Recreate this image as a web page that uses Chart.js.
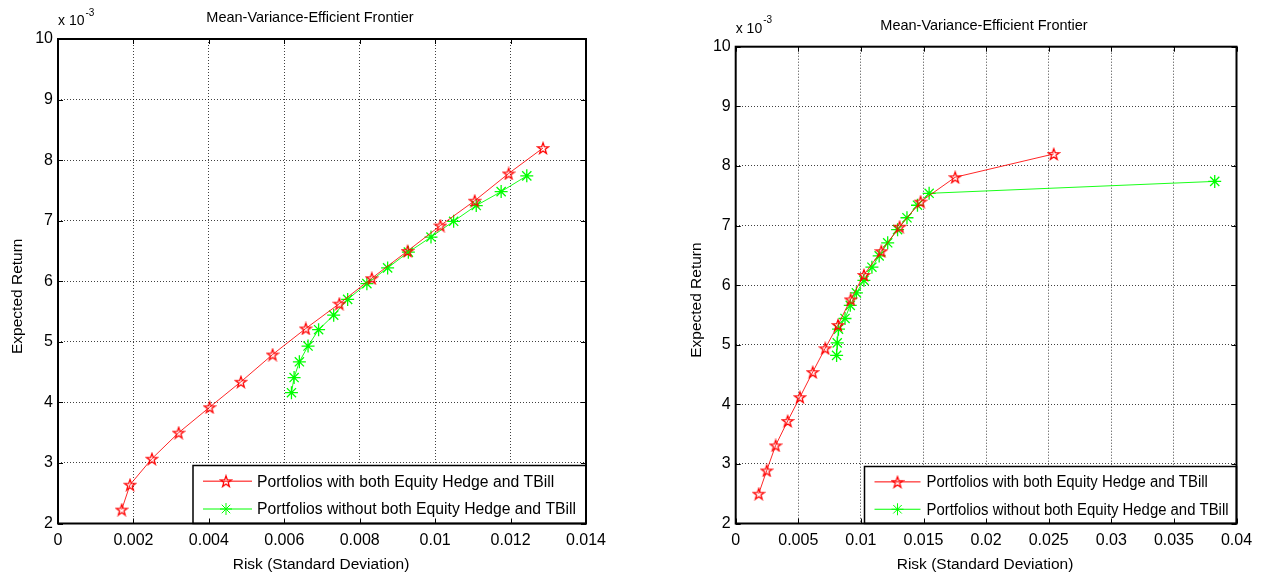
<!DOCTYPE html>
<html>
<head>
<meta charset="utf-8">
<script src="https://cdn.jsdelivr.net/npm/chart.js@4.4.1/dist/chart.umd.min.js"></script>
<style>
  html, body { margin: 0; padding: 0; background: #fff; }
  body { width: 1267px; height: 579px; position: relative; overflow: hidden; }
  .panel { position: absolute; top: 0; }
</style>
</head>
<body>
<div class="panel" style="left:0"><canvas id="leftChart" width="633" height="579"></canvas></div>
<div class="panel" style="left:633px"><canvas id="rightChart" width="634" height="579"></canvas></div>
<script>
// Labels
const chartTitle = 'Mean-Variance-Efficient Frontier';
const xAxisTitle = 'Risk (Standard Deviation)';
const yAxisTitle = 'Expected Return';
const seriesNames = [
    'Portfolios with both Equity Hedge and TBill',
    'Portfolios without both Equity Hedge and TBill'
];

// Ticks (expected return is shown in units of 10^-3)
const yTickValues = [2, 3, 4, 5, 6, 7, 8, 9, 10];
const yTickLabels = ['2', '3', '4', '5', '6', '7', '8', '9', '10'];
const leftXTickValues = [0, 0.002, 0.004, 0.006, 0.008, 0.010, 0.012, 0.014];
const leftXTickLabels = ['0', '0.002', '0.004', '0.006', '0.008', '0.01', '0.012', '0.014'];
const rightXTickValues = [0, 0.005, 0.010, 0.015, 0.020, 0.025, 0.030, 0.035, 0.040];
const rightXTickLabels = ['0', '0.005', '0.01', '0.015', '0.02', '0.025', '0.03', '0.035', '0.04'];

// Left panel data
const leftWithRisk = [0.00169, 0.00191, 0.00249, 0.00320, 0.00402, 0.00485, 0.00569, 0.00657,
    0.00746, 0.00832, 0.00927, 0.01014, 0.01105, 0.01195, 0.01286];
const leftWithReturn = [2.23, 2.64, 3.07, 3.50, 3.92, 4.34, 4.79, 5.22,
    5.63, 6.05, 6.50, 6.92, 7.33, 7.78, 8.20];
const leftWithoutRisk = [0.00619, 0.00626, 0.00640, 0.00663, 0.00691, 0.00731, 0.00768, 0.00819,
    0.00874, 0.00929, 0.00989, 0.01049, 0.01109, 0.01175, 0.01243];
const leftWithoutReturn = [4.16, 4.41, 4.67, 4.93, 5.20, 5.44, 5.70, 5.96,
    6.22, 6.48, 6.73, 6.99, 7.25, 7.48, 7.74];

// Right panel data
const rightWithRisk = [0.00184, 0.00248, 0.00319, 0.00415, 0.00513, 0.00615, 0.00715, 0.00817,
    0.00918, 0.01024, 0.01163, 0.01309, 0.01477, 0.01753, 0.02540];
const rightWithReturn = [2.50, 2.89, 3.31, 3.72, 4.12, 4.54, 4.94, 5.33,
    5.76, 6.17, 6.57, 6.98, 7.40, 7.81, 8.20];
const rightWithoutRisk = [0.00806, 0.00811, 0.00821, 0.00873, 0.00915, 0.00964, 0.01024, 0.01088,
    0.01146, 0.01214, 0.01293, 0.01368, 0.01452, 0.01545, 0.03826];
const rightWithoutReturn = [4.82, 5.03, 5.26, 5.44, 5.66, 5.87, 6.08, 6.30,
    6.49, 6.71, 6.93, 7.13, 7.34, 7.54, 7.74];

const FONT = "'Liberation Sans', Arial, Helvetica, sans-serif";
const RED = '#ff0000';
const GREEN = '#00ff00';

// MATLAB-like pentagram marker, drawn once and reused as pointStyle
function makePentagram(size, color) {
    const c = document.createElement('canvas');
    c.width = size;
    c.height = size;
    const g = c.getContext('2d');
    const cx = size / 2, cy = size / 2 + 0.6;
    const R = size / 2 - 1.2, r = R * 0.4;
    g.beginPath();
    for (let i = 0; i < 10; i++) {
        const ang = -Math.PI / 2 + i * Math.PI / 5;
        const rad = i % 2 === 0 ? R : r;
        g.lineTo(cx + rad * Math.cos(ang), cy + rad * Math.sin(ang));
    }
    g.closePath();
    g.strokeStyle = color;
    g.lineWidth = 1.3;
    g.stroke();
    return c;
}
const pentagram = makePentagram(14, RED);

function toPoints(xs, ys) {
    return xs.map((v, i) => ({ x: v, y: ys[i] }));
}

// Draws the boxed axes, inward ticks, texts and the legend the way MATLAB does
const matlabPlugin = {
    id: 'matlabDecor',
    afterDraw(chart, args, opts) {
        const { ctx, chartArea: a, scales } = chart;
        const xs = scales.x, ys = scales.y;
        ctx.save();

        // legend box in the bottom right corner
        const L = opts.legend;
        const bx = a.right - L.width, by = a.bottom - L.height;
        ctx.fillStyle = '#fff';
        ctx.fillRect(bx, by, L.width, L.height);
        ctx.strokeStyle = '#000';
        ctx.lineWidth = 1.5;
        ctx.strokeRect(bx, by, L.width, L.height);
        const rowY = [by + L.height * 0.27, by + L.height * 0.75];
        ctx.font = '16px ' + FONT;
        const widest = ctx.measureText(seriesNames[1]).width;
        const sx = Math.min(1, L.textWidth / widest);
        seriesNames.forEach((name, i) => {
            const y = rowY[i];
            ctx.strokeStyle = i === 0 ? RED : GREEN;
            ctx.lineWidth = 1;
            ctx.beginPath();
            ctx.moveTo(bx + 10, y);
            ctx.lineTo(bx + L.lineEnd, y);
            ctx.stroke();
            const mx = bx + L.markX;
            if (i === 0) {
                ctx.drawImage(pentagram, mx - 7, y - 7);
            } else {
                ctx.lineWidth = 1;
                ctx.beginPath();
                for (let k = 0; k < 4; k++) {
                    const ang = k * Math.PI / 4;
                    ctx.moveTo(mx - 6 * Math.cos(ang), y - 6 * Math.sin(ang));
                    ctx.lineTo(mx + 6 * Math.cos(ang), y + 6 * Math.sin(ang));
                }
                ctx.stroke();
            }
            ctx.save();
            ctx.translate(bx + L.textX, y);
            ctx.scale(sx, 1);
            ctx.fillStyle = '#000';
            ctx.textAlign = 'left';
            ctx.textBaseline = 'middle';
            ctx.fillText(name, 0, 1);
            ctx.restore();
        });

        // inward tick marks on all four sides
        ctx.strokeStyle = '#000';
        ctx.lineWidth = 1;
        ctx.beginPath();
        opts.xTicks.forEach(v => {
            const px = Math.round(xs.getPixelForValue(v)) + 0.5;
            ctx.moveTo(px, a.top); ctx.lineTo(px, a.top + 5);
            ctx.moveTo(px, a.bottom); ctx.lineTo(px, a.bottom - 5);
        });
        yTickValues.forEach(v => {
            const py = Math.round(ys.getPixelForValue(v)) + 0.5;
            ctx.moveTo(a.left, py); ctx.lineTo(a.left + 5, py);
            ctx.moveTo(a.right, py); ctx.lineTo(a.right - 5, py);
        });
        ctx.stroke();

        // box
        ctx.lineWidth = 2;
        ctx.strokeRect(a.left, a.top, a.right - a.left, a.bottom - a.top);

        // texts
        ctx.fillStyle = '#000';
        ctx.textBaseline = 'middle';
        ctx.textAlign = 'center';
        ctx.font = '14.5px ' + FONT;
        ctx.fillText(chartTitle, opts.titleX, a.top - 21);
        ctx.font = '15.5px ' + FONT;
        ctx.fillText(xAxisTitle, opts.xTitleX, a.bottom + 41);
        ctx.save();
        ctx.translate(opts.yTitleX, (a.top + a.bottom) / 2 + 15);
        ctx.rotate(-Math.PI / 2);
        ctx.fillText(yAxisTitle, 0, 0);
        ctx.restore();

        // exponent label
        ctx.textAlign = 'left';
        ctx.font = '14px ' + FONT;
        ctx.fillText('x 10', a.left, a.top - 18);
        const w = ctx.measureText('x 10').width;
        ctx.font = '10px ' + FONT;
        ctx.fillText('-3', a.left + w + 1, a.top - 26);

        ctx.restore();
    }
};

function buildChart(canvasId, P) {
    const canvas = document.getElementById(canvasId);
    const W = canvas.width, H = canvas.height;
    return new Chart(canvas, {
        type: 'scatter',
        data: {
            datasets: [
                {
                    label: seriesNames[0],
                    data: toPoints(P.withRisk, P.withReturn),
                    showLine: true,
                    borderColor: 'rgba(255, 0, 0, 0.85)',
                    borderWidth: 1,
                    pointStyle: pentagram,
                    pointRadius: 6,
                    pointBorderColor: RED,
                    pointBackgroundColor: 'transparent'
                },
                {
                    label: seriesNames[1],
                    data: toPoints(P.withoutRisk, P.withoutReturn),
                    showLine: true,
                    borderColor: 'rgba(0, 255, 0, 0.9)',
                    borderWidth: 1,
                    pointStyle: 'star',
                    pointRadius: 6.5,
                    pointBorderWidth: 1.3,
                    pointBorderColor: GREEN,
                    pointBackgroundColor: 'transparent'
                }
            ]
        },
        options: {
            responsive: false,
            animation: false,
            layout: {
                autoPadding: false,
                padding: { left: 0, top: P.area.top, right: W - P.area.right, bottom: 0 }
            },
            plugins: {
                legend: { display: false },
                tooltip: { enabled: false },
                matlabDecor: {
                    xTicks: P.xTickValues,
                    legend: P.legend,
                    titleX: P.titleX,
                    xTitleX: P.xTitleX,
                    yTitleX: P.yTitleX
                }
            },
            scales: {
                x: {
                    type: 'linear',
                    min: P.xTickValues[0],
                    max: P.xTickValues[P.xTickValues.length - 1],
                    afterFit: s => { s.height = H - P.area.bottom; },
                    afterBuildTicks: s => { s.ticks = P.xTickValues.map(v => ({ value: v })); },
                    ticks: {
                        autoSkip: false,
                        maxRotation: 0,
                        padding: 7,
                        color: '#000',
                        font: { family: FONT, size: 16 },
                        callback: (value, index) => P.xTickLabels[index]
                    },
                    grid: { color: 'rgba(0,0,0,0.75)', lineWidth: 1, drawTicks: false },
                    border: { display: false, dash: [1, 2] }
                },
                y: {
                    type: 'linear',
                    min: yTickValues[0],
                    max: yTickValues[yTickValues.length - 1],
                    afterFit: s => { s.width = P.area.left; },
                    afterBuildTicks: s => { s.ticks = yTickValues.map(v => ({ value: v })); },
                    ticks: {
                        autoSkip: false,
                        padding: 5,
                        color: '#000',
                        font: { family: FONT, size: 16 },
                        callback: (value, index) => yTickLabels[index]
                    },
                    grid: { color: 'rgba(0,0,0,0.75)', lineWidth: 1, drawTicks: false },
                    border: { display: false, dash: [1, 2] }
                }
            }
        },
        plugins: [matlabPlugin]
    });
}

document.addEventListener('DOMContentLoaded', function() {
    buildChart('leftChart', {
        withRisk: leftWithRisk, withReturn: leftWithReturn,
        withoutRisk: leftWithoutRisk, withoutReturn: leftWithoutReturn,
        xTickValues: leftXTickValues, xTickLabels: leftXTickLabels,
        area: { left: 58, right: 586, top: 39, bottom: 523.5 },
        legend: { width: 393, height: 58, lineEnd: 59, markX: 33, textX: 64, textWidth: 319 },
        titleX: 310, xTitleX: 321, yTitleX: 18
    });

    buildChart('rightChart', {
        withRisk: rightWithRisk, withReturn: rightWithReturn,
        withoutRisk: rightWithoutRisk, withoutReturn: rightWithoutReturn,
        xTickValues: rightXTickValues, xTickLabels: rightXTickLabels,
        area: { left: 102.7, right: 603.5, top: 46.7, bottom: 523.5 },
        legend: { width: 372, height: 57, lineEnd: 56, markX: 33, textX: 62, textWidth: 302 },
        titleX: 351, xTitleX: 352, yTitleX: 64
    });
});
</script>
</body>
</html>
